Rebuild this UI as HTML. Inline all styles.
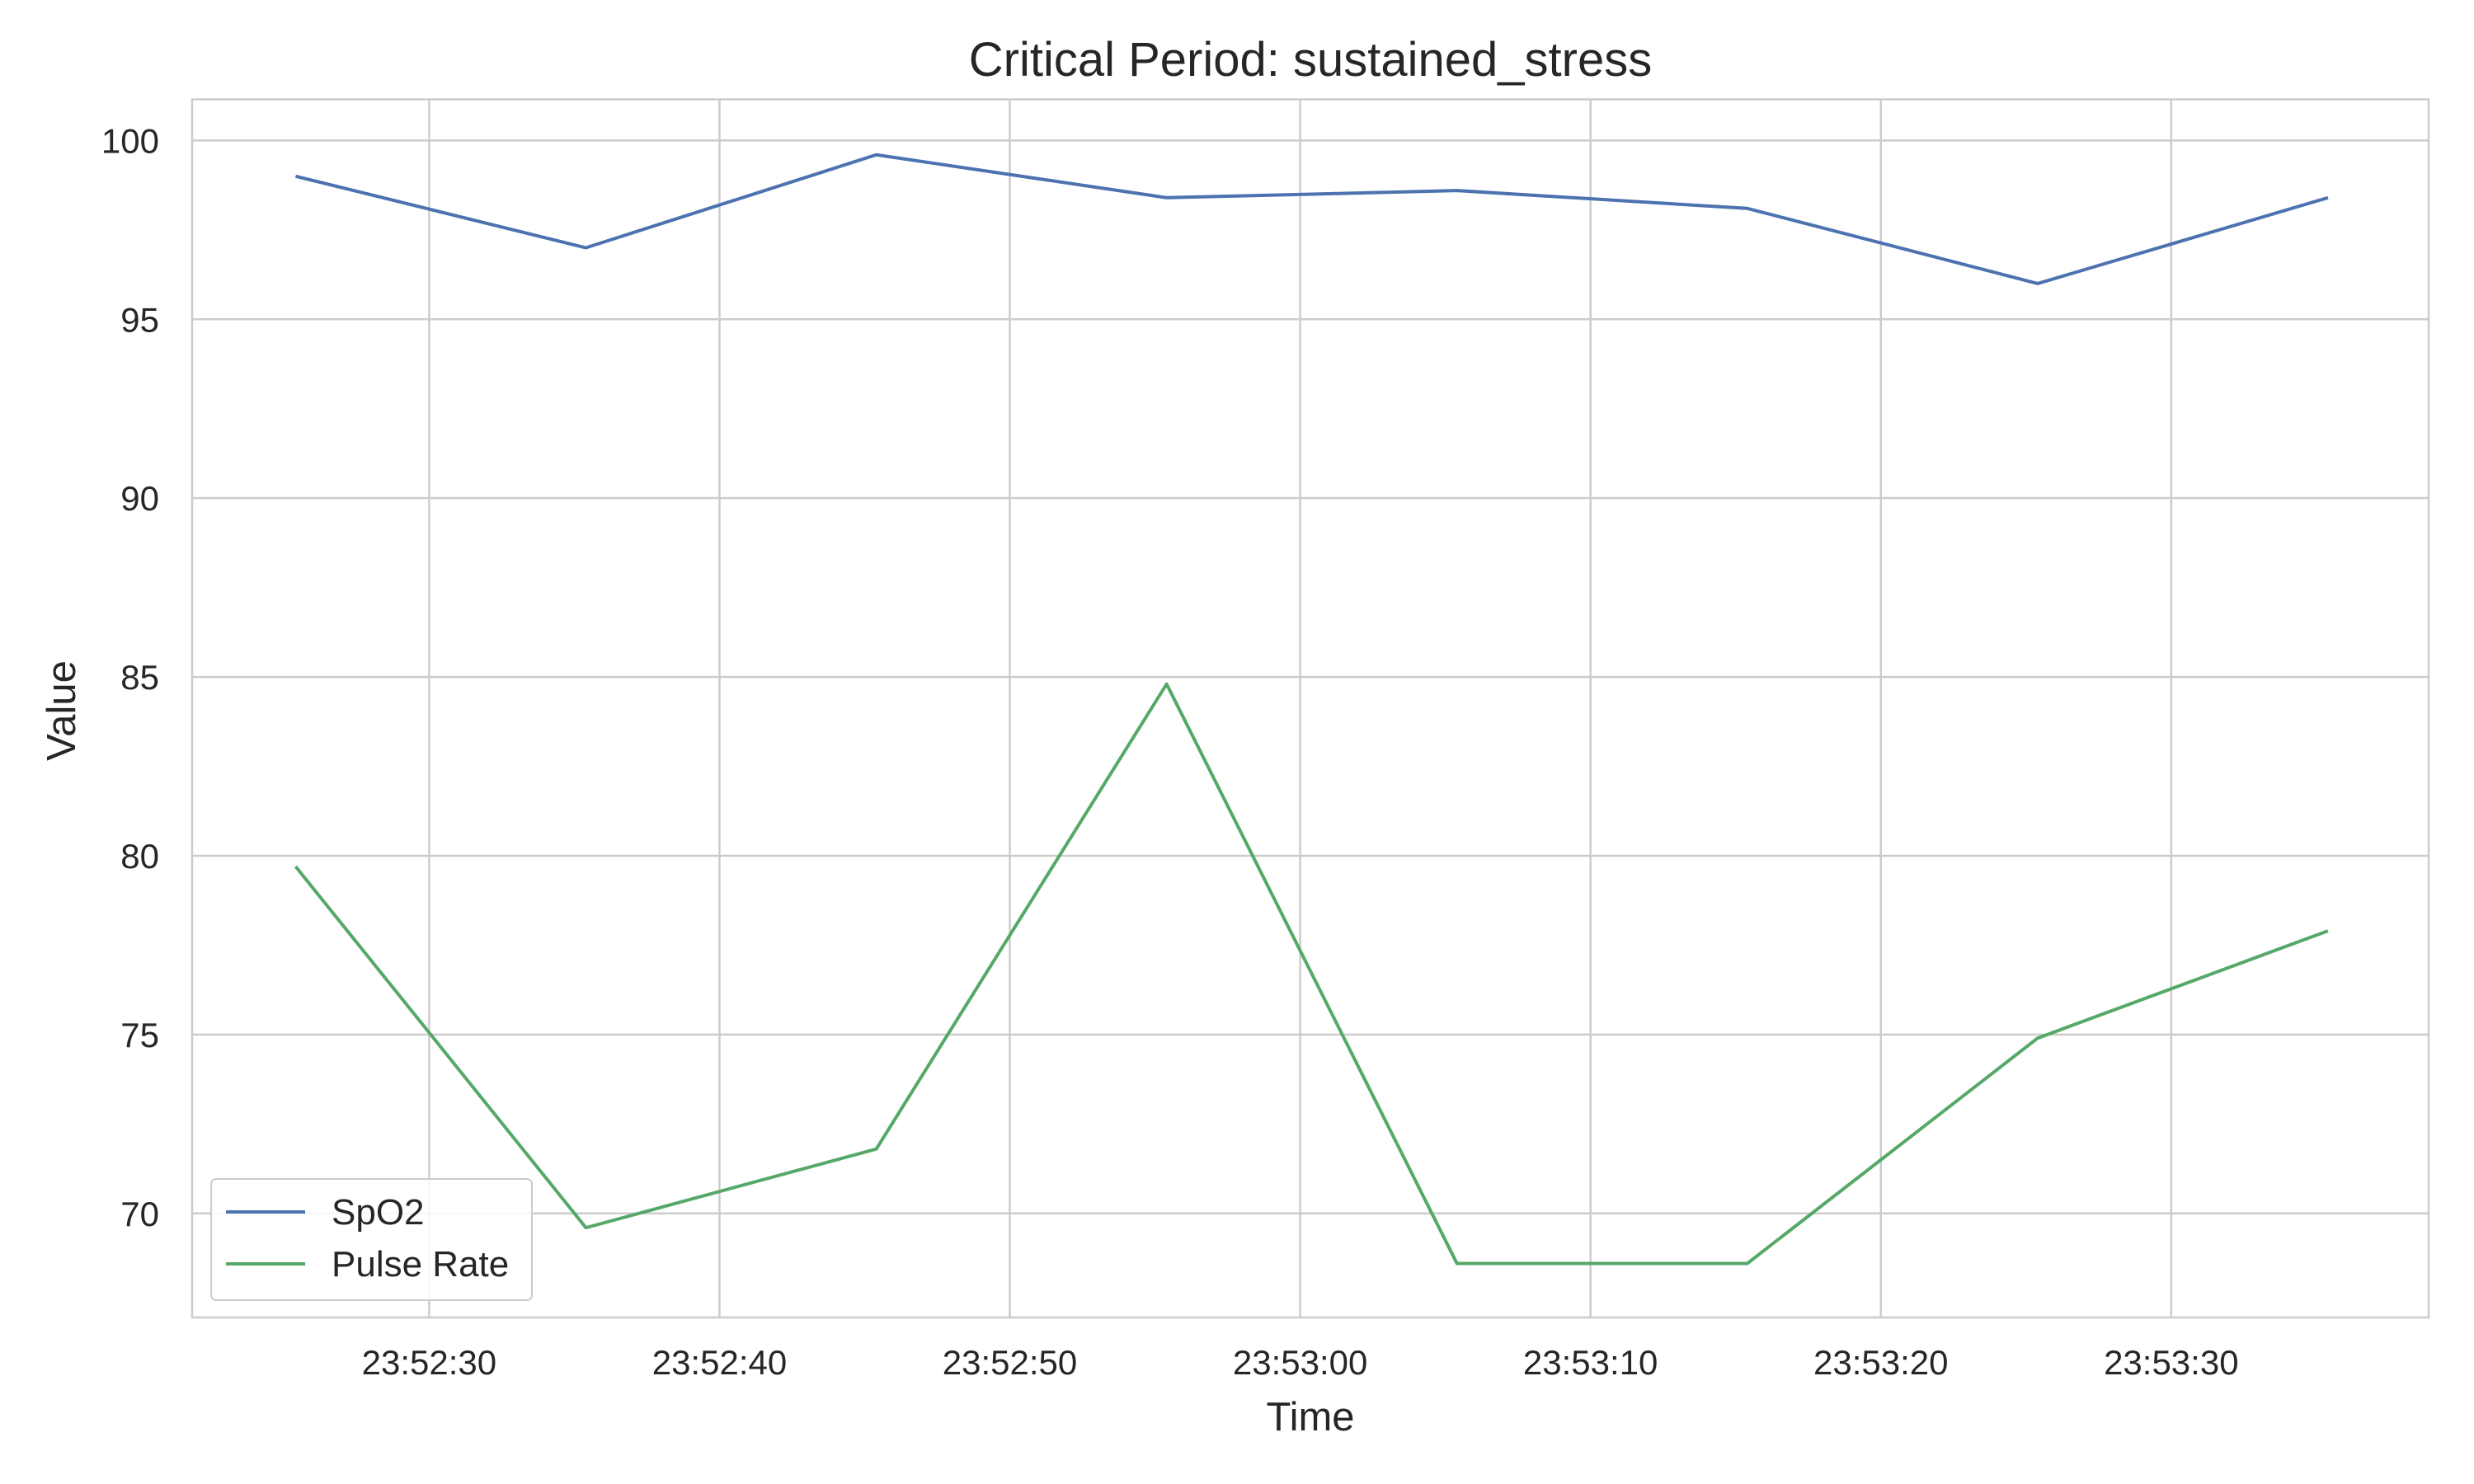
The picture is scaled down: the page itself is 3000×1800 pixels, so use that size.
<!DOCTYPE html>
<html><head><meta charset="utf-8"><style>
html,body{margin:0;padding:0;background:#fff;}
svg{display:block;font-family:"Liberation Sans",Arial,sans-serif;}
</style></head><body>
<svg id="chart" width="3000" height="1800" viewBox="0 0 3000 1800" xmlns="http://www.w3.org/2000/svg">
<rect width="3000" height="1800" fill="#fff"/>
<g id="grid"></g>
<g id="series"></g>
<rect x="233" y="120.5" width="2712" height="1477.5" fill="none" stroke="#cccccc" stroke-width="2.5"/>
<g id="ticks" font-size="42" fill="#262626"></g>
<text x="1589" y="92" text-anchor="middle" font-size="58" fill="#262626">Critical Period: sustained_stress</text>
<text x="1589" y="1735" text-anchor="middle" font-size="49" fill="#262626">Time</text>
<text transform="translate(91,862) rotate(-90)" text-anchor="middle" font-size="49" fill="#262626">Value</text>
<g>
<rect x="256" y="1430" width="389" height="147" rx="6" fill="#fff" fill-opacity="0.85" stroke="#cccccc" stroke-width="2"/>
<line x1="274" y1="1470" x2="370" y2="1470" stroke="#4c72b0" stroke-width="4"/>
<text x="402" y="1485" font-size="44" fill="#262626">SpO2</text>
<line x1="274" y1="1533" x2="370" y2="1533" stroke="#55a868" stroke-width="4"/>
<text x="402" y="1548" font-size="44" fill="#262626">Pulse Rate</text>
</g>
</svg>
<script>
const timeSeconds = [25.4, 35.4, 45.4, 55.4, 65.4, 75.4, 85.4, 95.4]; // seconds after 23:52:00
const spo2Values = [99.0, 97.0, 99.6, 98.4, 98.6, 98.1, 96.0, 98.4];
const pulseValues = [79.7, 69.6, 71.8, 84.8, 68.6, 68.6, 74.9, 77.9];
const yTicks = [70, 75, 80, 85, 90, 95, 100];
const xTickSeconds = [30, 40, 50, 60, 70, 80, 90];
const xTickLabels = ["23:52:30","23:52:40","23:52:50","23:53:00","23:53:10","23:53:20","23:53:30"];

const L=233,R=2945,T=120.5,B=1598;
const yMin=67.09,yMax=101.15;
const x=s=>520.4+(s-30)*35.207;
const y=v=>B-(v-yMin)/(yMax-yMin)*(B-T);
const NS="http://www.w3.org/2000/svg";
const grid=document.getElementById('grid'),ticks=document.getElementById('ticks'),series=document.getElementById('series');
function mk(tag,attrs,parent){const e=document.createElementNS(NS,tag);for(const k in attrs)e.setAttribute(k,attrs[k]);parent.appendChild(e);return e;}
yTicks.forEach(v=>{
  const g=mk('line',{x1:L,x2:R,y1:y(v),y2:y(v),stroke:'#cccccc','stroke-width':2.5},grid);
  
  
  const t=mk('text',{x:L-40,y:y(v)+15,'text-anchor':'end'},ticks);t.textContent=v;
  
  
});
xTickSeconds.forEach((s,i)=>{
  const g=mk('line',{x1:x(s),x2:x(s),y1:T,y2:B,stroke:'#cccccc','stroke-width':2.5},grid);
  
  
  const t=mk('text',{x:x(s),y:B+69,'text-anchor':'middle'},ticks);t.textContent=xTickLabels[i];
  
  
});
function line(vals,color,name){
  const p=mk('polyline',{points:vals.map((v,i)=>x(timeSeconds[i])+','+y(v)).join(' '),fill:'none',stroke:color,'stroke-width':4,'stroke-linejoin':'round'},series);
  
  
}
line(spo2Values,'#4c72b0','spo2-line');
line(pulseValues,'#55a868','pulse-rate-line');
</script>
</body></html>
